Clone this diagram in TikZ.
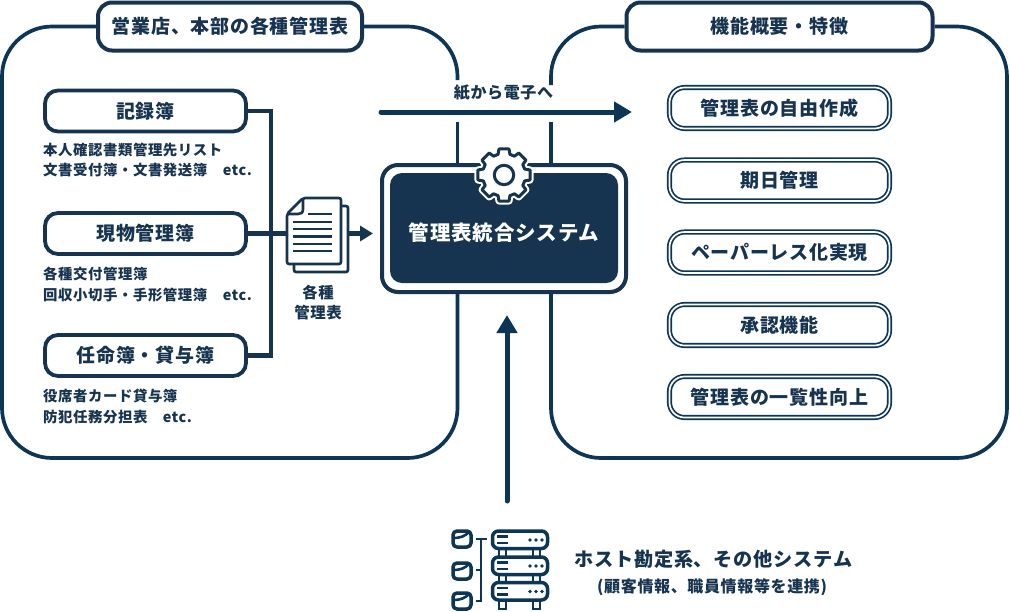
\documentclass[tikz,border=0pt]{standalone}
\usepackage{fontspec}
\usetikzlibrary{arrows.meta}
\newfontfamily\jpfont{Noto Sans CJK JP}[LetterSpace=4]
\definecolor{lineblue}{HTML}{0C3556}
\definecolor{inkblue}{HTML}{16334F}
\tikzset{
  panelline/.style={draw=lineblue,line width=3.7pt,rounded corners=50pt},
  headbox/.style={draw=inkblue,fill=white,line width=4pt,rounded corners=14pt,minimum height=48pt,inner sep=0pt,text=inkblue,font=\jpfont\bfseries\fontsize{19}{22}\selectfont},
  srcbox/.style={draw=inkblue,fill=white,line width=3.8pt,rounded corners=13pt,minimum width=201pt,minimum height=41pt,inner sep=0pt,text=inkblue,font=\jpfont\bfseries\fontsize{19}{22}\selectfont},
  featbox/.style={draw=lineblue,double=white,line width=1.7pt,double distance=1.7pt,rounded corners=15pt,minimum width=220pt,minimum height=41pt,inner sep=0pt,text=inkblue,font=\jpfont\bfseries\fontsize{19}{22}\selectfont},
  sublabel/.style={anchor=west,align=left,inner sep=0pt,text=inkblue,font=\jpfont\bfseries\fontsize{14.4}{20.5}\selectfont},
  feedline/.style={draw=inkblue,line width=4.8pt},
  bigarrow/.style={draw=lineblue,line width=5pt,line cap=round,-{Triangle[length=18pt,width=20pt]}},
  icon/.style={draw=inkblue,line width=2.6pt,line join=round},
  gearline/.style={draw=inkblue,line width=3pt,line join=round},
  serverline/.style={draw=lineblue,line width=3.5pt,line join=round},
}
\begin{document}
\begin{tikzpicture}[x=1pt,y=-1pt]
\useasboundingbox[fill=white] (0,0) rectangle (1010,611);
% header nodes
\node[headbox,minimum width=264pt] (hdrL) at (230,26.5) {営業店、本部の各種管理表};
\node[headbox,minimum width=306pt] (hdrR) at (779.5,26.5) {機能概要・特徴};
% central system
\node[draw=inkblue,fill=white,line width=4pt,rounded corners=16pt,minimum width=244pt,minimum height=127pt,inner sep=0pt] (sys) at (504,228.5) {};
\node[fill=inkblue,rounded corners=12pt,minimum width=228pt,minimum height=110pt,inner sep=0pt] (core) at (504,228) {};
\node[inner sep=0pt,text=white,font=\jpfont\bfseries\fontsize{20.5}{24}\selectfont] (corelabel) at (504,233) {管理表統合システム};
% panels
\draw[panelline] (hdrL.west) -- (2,26.5) -- (2,458) -- (457.5,458) -- (457.5,0 |- sys.south);
\draw[panelline] (hdrL.east) -- (457.5,26.5) -- (457.5,80);
\draw[draw=lineblue,line width=3.7pt] (457.5,122) -- (457.5,0 |- sys.north);
\draw[panelline] (hdrR.west) -- (551,26.5) -- (551,85);
\draw[draw=lineblue,line width=3.7pt] (551,122) -- (551,0 |- sys.north);
\draw[panelline] (hdrR.east) -- (1007,26.5) -- (1007,458) -- (551,458) -- (551,0 |- sys.south);
% source boxes
\node[srcbox] (kiroku) at (145.5,111) {記録簿};
\node[srcbox] (genbutsu) at (145.5,233.5) {現物管理簿};
\node[srcbox] (ninmei) at (145.5,355.5) {任命簿・貸与簿};
\node[sublabel] (subA) at (43,160) {本人確認書類管理先リスト\\文書受付簿・文書発送簿　etc.};
\node[sublabel] (subB) at (43,284.5) {各種交付管理簿\\回収小切手・手形管理簿　etc.};
\node[sublabel] (subC) at (43,406.5) {役席者カード貸与簿\\防犯任務分担表　etc.};
% connectors
\node[minimum width=61pt,minimum height=74pt,inner sep=0pt] (docs) at (317.5,233.5) {};
\coordinate (trunk) at (271,233.5);
\coordinate (doctip) at (373,233.5);
\draw[feedline] (kiroku.east) -| (trunk) |- (ninmei.east);
\draw[feedline] (genbutsu.east) -- (docs.center);
\draw[feedline,-{Triangle[length=13pt,width=15pt]}] (docs.center) -- (doctip);
% document icon
\draw[icon,fill=white,rounded corners=2pt] (294,206) rectangle (348,272);
\draw[icon,fill=white,rounded corners=2pt] (287,214) -- (303,198) -- (341,198) -- (341,264) -- (287,264) -- cycle;
\draw[icon] (303,198) -- (303,209) .. controls (303,213) and (301,214) .. (298,214) -- (287,214);
\foreach \ly/\lx in {214/308,222/293,229/293,236.5/293,244/293,251/293}
  \draw[draw=inkblue,line width=2.4pt] (\lx,\ly) -- (332,\ly);
\node[inner sep=0pt,text=inkblue,align=center,font=\jpfont\bfseries\fontsize{15.4}{20}\selectfont] (doclabel) at (318,302.5) {各種\\管理表};
% top arrow
\node[inner sep=0pt,text=inkblue,font=\jpfont\bfseries\fontsize{16}{20}\selectfont] (paper) at (503.5,92.5) {紙から電子へ};
\coordinate (paperA) at (381,112);
\coordinate (paperB) at (632,112);
\draw[bigarrow] (paperA) -- (paperB);
% gear
\def\gearpath{(90-16:21.5) \foreach \gk in {0,...,7}{ -- ({90+45*\gk-16}:21.5) -- ({90+45*\gk-11}:26.5) -- ({90+45*\gk+11}:26.5) -- ({90+45*\gk+16}:21.5)} -- cycle}
\begin{scope}[shift={(504,175)},y=1pt]
\draw[draw=white,fill=white,line width=7pt,line join=round] \gearpath;
\draw[gearline,fill=white] \gearpath;
\draw[gearline] (0,0) circle (9.7);
\end{scope}
% features
\node[featbox] (f1) at (779.5,108) {管理表の自由作成};
\node[featbox] (f2) at (779.5,180.5) {期日管理};
\node[featbox] (f3) at (779.5,252.5) {ペーパーレス化実現};
\node[featbox] (f4) at (779.5,325) {承認機能};
\node[featbox] (f5) at (779.5,397) {管理表の一覧性向上};
% up arrow
\coordinate (hostA) at (507,501);
\coordinate (hostB) at (507,315);
\draw[bigarrow] (hostA) -- (hostB);
% server icon
\foreach \sy in {531,557,582.5}{
  \draw[serverline,fill=white,rounded corners=6pt] (492.5,\sy) rectangle (547.5,\sy+17.5);
  \draw[draw=lineblue,line width=2.8pt] (497,\sy+5.5) -- (508,\sy+5.5) (497,\sy+12) -- (508,\sy+12);
  \foreach \dx in {530,536,542} \fill[lineblue] (\dx,\sy+9) circle (1.8);
}
\foreach \sx in {499,533}{
  \draw[draw=lineblue,line width=2.8pt] (\sx,548.5) -- (\sx,557) (\sx+7,548.5) -- (\sx+7,557);
  \draw[draw=lineblue,line width=2.8pt] (\sx,574.5) -- (\sx,582.5) (\sx+7,574.5) -- (\sx+7,582.5);
  \draw[draw=lineblue,line width=2.8pt] (\sx,600) -- (\sx,609) -- (\sx+7,609) -- (\sx+7,600);
}
\foreach \cy in {531,563,593}{
  \draw[serverline,rounded corners=4pt] (453,\cy) rectangle (471,\cy+16);
  \draw[draw=lineblue,line width=2.6pt] (453,\cy+7) .. controls (461,\cy+7) and (465,\cy+5) .. (469,\cy+1);
}
\draw[draw=lineblue,line width=2.4pt] (476,539) -- (487,539) (481,539) -- (481,601) -- (476,601) (481,570) -- (476,570);
\node[anchor=west,inner sep=0pt,text=inkblue,font=\jpfont\bfseries\fontsize{19.2}{22}\selectfont] (host) at (574,559) {ホスト勘定系、その他システム};
\node[anchor=west,inner sep=0pt,text=inkblue,font=\jpfont\bfseries\fontsize{16}{20}\selectfont] (hostsub) at (597,587) {(顧客情報、職員情報等を連携)};
\end{tikzpicture}
\end{document}
